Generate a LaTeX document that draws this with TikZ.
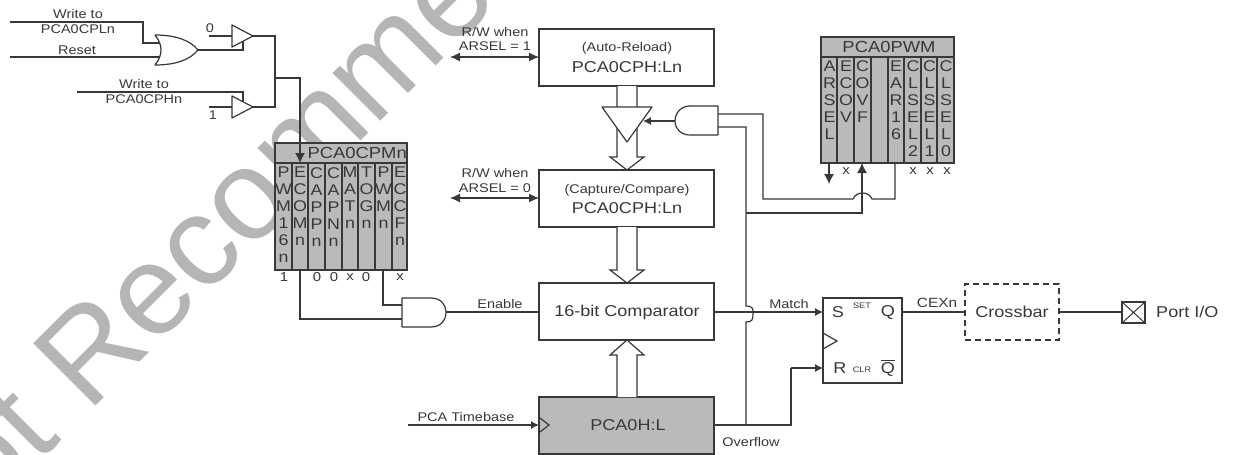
\documentclass[tikz,border=0pt]{standalone}
\usepackage{fontspec}
\setmainfont[FakeStretch=1.15]{Liberation Sans}
\newfontfamily\wmfont{Liberation Sans}
\usetikzlibrary{arrows.meta}
\colorlet{ink}{black!78}
\colorlet{cellgrey}{black!27}
\tikzset{
 x=1pt,y=-1pt,
 wire/.style={draw=ink,line width=1.2pt},
 ar/.style={wire,-{Latex[length=8pt,width=8pt]}},
 arb/.style={wire,-{Latex[length=10pt,width=10pt]}},
 ar2/.style={wire,{Latex[length=10pt,width=9pt]}-{Latex[length=10pt,width=9pt]}},
 box/.style={draw=ink,line width=1.2pt,fill=white,outer sep=0pt,inner sep=0pt,anchor=north west,minimum width=175pt,minimum height=57pt},
 gate/.style={draw=ink,line width=1.2pt,fill=white,line join=round},
 lbl/.style={font=\fontsize{12.6}{13}\selectfont,inner sep=0pt,text=ink},
 big/.style={font=\fontsize{15.7}{17}\selectfont,inner sep=0pt,text=ink},
 tiny/.style={font=\fontsize{8}{8}\selectfont,inner sep=0pt,text=ink},
 bit/.style={font=\fontsize{13}{13}\selectfont,inner sep=0pt,text=ink},
 reg/.style={font=\fontsize{15.5}{17}\selectfont,inner sep=0pt,text=ink,anchor=north,align=center},
 regtitle/.style={font=\fontsize{16}{17}\selectfont,inner sep=0pt,text=ink},
}
\newcommand{\regcol}[3]{\node[reg] at (#1,#2) {#3};}
\begin{document}
\begin{tikzpicture}
\useasboundingbox (0,0) rectangle (1250,455);
\begin{scope}
\clip (0,0) rectangle (1250,455);
\node[rotate=45,anchor=base west,inner sep=0pt,text=black!29,font=\wmfont\fontsize{128}{130}\selectfont] (wmk) at (-78,580) {Not Recommended};
\end{scope}
% left logic
\coordinate (w1) at (10,22); \coordinate (w2) at (10,57); \coordinate (w3) at (77,92);
\coordinate (oro) at (198,50);
\draw[wire] (w1) -- (143,22) -- (143,43) -- (160,43);
\draw[wire] (w2) -- (160,57);
\draw[gate] (155,35) .. controls (175,35) and (190,40) .. (oro) .. controls (190,60) and (175,65) .. (155,65) .. controls (163,55) and (163,45) .. (155,35) -- cycle;
\node[lbl] (t1) at (78,14) {Write to};
\node[lbl] (t2) at (78,29) {PCA0CPLn};
\node[lbl] (t3) at (77,50) {Reset};
\node[lbl] (t4) at (144,84) {Write to};
\node[lbl] (t5) at (144,99) {PCA0CPHn};
\node[lbl] (t6) at (210,28) {0};
\node[lbl] (t7) at (213,115) {1};
\coordinate (b1i) at (209,36); \coordinate (b2i) at (209,107);
\coordinate (b1) at (253,36); \coordinate (b2) at (253,107);
\draw[wire] (b1i) -- (232,36);
\draw[wire] (oro) -- (243,50) -- (243,42);
\draw[wire] (w3) -- (243,92) -- (243,101);
\draw[wire] (b2i) -- (232,107);
\draw[gate] (232,25) -- (b1) -- (232,47) -- cycle;
\draw[gate] (232,96) -- (b2) -- (232,118) -- cycle;
\draw[wire] (b1) -- (275,36) -- (275,107) -- (b2);
% PCA0CPMn
\fill[cellgrey] (275,143) rectangle (407,270);
\foreach \x in {292,308,325,342,358,375,392} \draw[wire] (\x,163) -- (\x,270);
\draw[wire] (275,143) rectangle (407,270);
\draw[wire] (275,163) -- (407,163);
\node[regtitle,anchor=east] (cpm) at (407,153) {PCA0CPMn};
\draw[arb] (275,78) -- (300,78) -- (300,163);
\regcol{283.5}{167}{P\\W\\M\\1\\6\\n}
\regcol{300}{167}{E\\C\\O\\M\\n}
\regcol{316.5}{167}{C\\A\\P\\P\\n}
\regcol{333.5}{167}{C\\A\\P\\N\\n}
\regcol{350}{167}{M\\A\\T\\n}
\regcol{366.5}{167}{T\\O\\G\\n}
\regcol{383.5}{167}{P\\W\\M\\n}
\regcol{400}{167}{E\\C\\C\\F\\n}
\foreach \x/\s in {284/1,317/0,334/0,350/x,366/0,400/x} \node[bit] at (\x,277) {\s};
% AND enable
\coordinate (ena) at (446,312);
\draw[wire] (300,270) -- (300,319) -- (402,319);
\draw[wire] (383,270) -- (383,305) -- (402,305);
\draw[gate] (402,298) -- (431,298) .. controls (441,298) and (446,305) .. (ena) .. controls (446,320) and (441,327) .. (431,327) -- (402,327) -- cycle;
\node[lbl] (en) at (500,304) {Enable};
% main boxes
\node[box] (ar) at (539,29) {};
\node[lbl] (arl) at (627,48) {(Auto-Reload)};
\node[big] (arn) at (627,67) {PCA0CPH:Ln};
\node[box] (cc) at (539,170) {};
\node[lbl] (ccl) at (627,190) {(Capture/Compare)};
\node[big] (ccn) at (627,208) {PCA0CPH:Ln};
\node[box] (cmp) at (539,283) {};
\node[big] (cmpn) at (627,312) {16-bit Comparator};
\node[box,fill=cellgrey] (tmr) at (539,397) {};
\node[big] (tmrn) at (628,425) {PCA0H:L};
\draw[wire] (ena) -- (cmp.west |- ena);
% buses
\draw[wire,fill=white] (617,86) -- (617,157) -- (610,157) -- (627,170) -- (644,157) -- (637,157) -- (637,86);
\draw[gate] (602,107) -- (652,107) -- (627,142) -- cycle;
\draw[wire,fill=white] (617,227) -- (617,270) -- (610,270) -- (627,283) -- (644,270) -- (637,270) -- (637,227);
\draw[wire,fill=white] (617,397) -- (617,355) -- (610,355) -- (627,340) -- (644,355) -- (637,355) -- (637,397);
% RW labels
\node[lbl] (rwa) at (495,32) {R/W when};
\node[lbl] (rwb) at (495,46) {ARSEL = 1};
\node[lbl] (rwc) at (495,173) {R/W when};
\node[lbl] (rwd) at (495,188) {ARSEL = 0};
\coordinate (rw1) at (450,57); \coordinate (rw0) at (450,198);
\draw[ar2] (rw1) -- (rw1 -| ar.west);
\draw[ar2] (rw0) -- (rw0 -| cc.west);
% PCA0PWM
\fill[cellgrey] (821,37) rectangle (954,163);
\foreach \x in {837,854,871,888,904,921,937} \draw[wire] (\x,57) -- (\x,163);
\draw[wire] (821,37) rectangle (954,163);
\draw[wire] (821,57) -- (954,57);
\node[regtitle] (pwm) at (889,47) {PCA0PWM};
\regcol{829.5}{60.5}{A\\R\\S\\E\\L}
\regcol{846}{60.5}{E\\C\\O\\V}
\regcol{862.5}{60.5}{C\\O\\V\\F}
\regcol{896}{60.5}{E\\A\\R\\1\\6}
\regcol{913}{60.5}{C\\L\\S\\E\\L\\2}
\regcol{929.5}{60.5}{C\\L\\S\\E\\L\\1}
\regcol{946}{60.5}{C\\L\\S\\E\\L\\0}
\foreach \x in {846,913,930,947} \node[bit] at (\x,171) {x};
\coordinate (arsel) at (829,184);
\draw[arb] (829,163) -- (arsel);
% upper AND
\coordinate (uand) at (675,121);
\draw[gate] (718,106) -- (690,106) .. controls (681,106) and (675,113) .. (uand) .. controls (675,129) and (681,135) .. (690,135) -- (718,135) -- cycle;
\draw[ar] (uand) -- (643,121);
\draw[wire] (718,114) -- (763,114) -- (763,199) -- (853,199) .. controls (856,191) and (869,191) .. (872,199) -- (895,199) -- (895,163);
\draw[wire] (718,127) -- (746,127) -- (746,306) .. controls (754,306) and (753,310) .. (753,314) .. controls (753,320) and (752,322) .. (746,322) -- (746,425);
\draw[arb] (746,213) -- (862,213) -- (862,163);
% flip flop
\node[box,minimum width=79pt,minimum height=85pt] (ff) at (823,298) {};
\draw[wire] (823,333) -- (837,341) -- (823,349);
\node[big] (ffs) at (838,312) {S};
\node[big] (ffr) at (840,368) {R};
\node[big] (ffq) at (888,312) {Q};
\node[big] (ffn) at (888,368) {$\overline{\mbox{Q}}$};
\node[tiny] (ffset) at (862,306) {SET};
\node[tiny] (ffclr) at (862,370) {CLR};
% overflow and match
\draw[wire] (tmr.east |- 0,425) -- (791,425) -- (791,368);
\draw[ar] (791,368) -- (ff.west |- 0,368);
\draw[ar] (cmp.east |- 0,312) -- (ff.west |- 0,312);
\node[lbl] (match) at (789,304) {Match};
\node[lbl] (ovf) at (751,442) {Overflow};
% timebase
\coordinate (tb) at (408,425);
\draw[ar] (tb) -- (tb -| tmr.west);
\draw[wire] (540,418) -- (549,425) -- (540,432);
\node[lbl] (tbl) at (466,417) {PCA Timebase};
% Crossbar
\node[box,dashed,dash pattern=on 6pt off 4pt,line width=1.4pt,minimum width=94pt,minimum height=56pt] (xb) at (965,284) {};
\node[big] (xbn) at (1012,312) {Crossbar};
\draw[wire] (ff.east |- 0,312) -- (xb.west |- 0,312);
\node[lbl,font=\fontsize{13.4}{14}\selectfont] (cex) at (937,303) {CEXn};
\node[draw=ink,line width=1.2pt,minimum width=23pt,minimum height=21pt,inner sep=0pt,outer sep=0pt] (pio) at (1133.5,312.5) {};
\draw[wire] (xb.east |- 0,312) -- (pio.west |- 0,312);
\draw[wire,line width=1pt] (pio.north west) -- (pio.south east) (pio.north east) -- (pio.south west);
\node[big,anchor=west] (piol) at (1156,312) {Port I/O};
\end{tikzpicture}
\end{document}
